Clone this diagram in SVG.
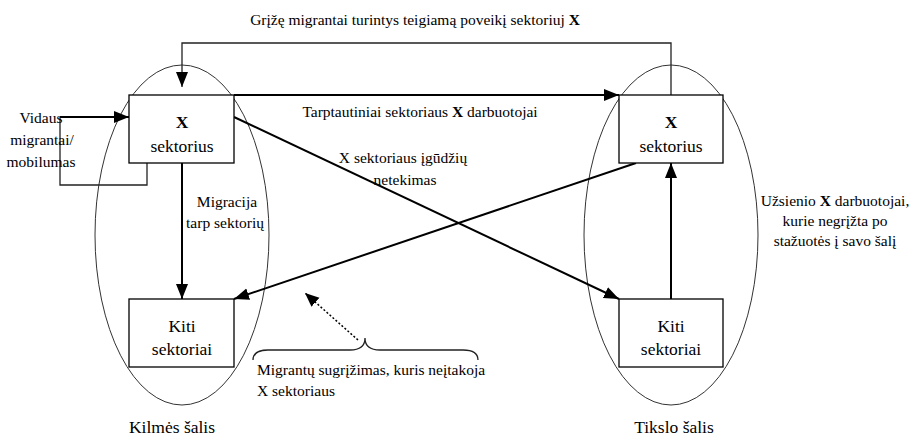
<svg xmlns="http://www.w3.org/2000/svg" width="914" height="440" viewBox="0 0 914 440" font-family="'Liberation Serif', 'DejaVu Serif', serif">
<defs>
<style>
text{font-family:'Liberation Serif','DejaVu Serif',serif;fill:#000}
.lbl{font-size:15.5px}
.box-t{font-size:17.5px;text-anchor:middle}
.mid{text-anchor:middle}
.b{font-weight:bold}
.box{fill:#fff;stroke:#000;stroke-width:1.3}
.ell{fill:none;stroke:#333;stroke-width:1}
.thin{fill:none;stroke:#222;stroke-width:1.3}
.thick{fill:none;stroke:#000;stroke-width:2}
.dot{fill:none;stroke:#000;stroke-width:1.5;stroke-dasharray:2 2}
</style>
<marker id="ah" markerUnits="userSpaceOnUse" markerWidth="16" markerHeight="14" refX="15" refY="6" orient="auto">
<path d="M0,0 L15,6 L0,12 z" fill="#000"/>
</marker>
<marker id="ahs" markerUnits="userSpaceOnUse" markerWidth="16" markerHeight="14" refX="14" refY="6" orient="auto">
<path d="M0,0 L14,6 L0,12 z" fill="#000"/>
</marker>
</defs>
<rect width="914" height="440" fill="#fff"/>

<g id="origin-country">
<ellipse class="ell" cx="182" cy="235" rx="87" ry="170"/>
<text class="box-t" x="172" y="433">Kilmės šalis</text>
</g>
<g id="destination-country">
<ellipse class="ell" cx="671" cy="235" rx="87" ry="170"/>
<text class="box-t" x="674" y="433">Tikslo šalis</text>
</g>

<g id="connectors">
<path class="thin" d="M671,95 V43 H182 V87" marker-end="url(#ah)"/>
<path class="thick" d="M234,95 H619" marker-end="url(#ah)"/>
<path class="thin" d="M60,117 V185 H147 V156"/>
<path class="thick" d="M60,117 H129" marker-end="url(#ah)"/>
<path class="thick" d="M182,163 V299" marker-end="url(#ah)"/>
<path class="thick" d="M671,299 V163" marker-end="url(#ah)"/>
<path class="thick" d="M234,117 L619,299" marker-end="url(#ah)"/>
<path class="thick" d="M636,163 L234,299" marker-end="url(#ah)"/>
<path class="dot" d="M358,340 L305,293" marker-end="url(#ahs)"/>
<path class="thin" d="M253,360 C253,353 258,350 268,350 H350 C360,350 365,346 365,338 C365,346 370,350 380,350 H463 C473,350 478,353 478,360"/>
</g>

<g id="origin-x-sector">
<rect class="box" x="129" y="95" width="105" height="68"/>
<text class="box-t b" x="182" y="128">X</text>
<text class="box-t" x="182" y="152">sektorius</text>
</g>
<g id="origin-other-sectors">
<rect class="box" x="129" y="299" width="105" height="68"/>
<text class="box-t" x="182" y="332">Kiti</text>
<text class="box-t" x="182" y="355">sektoriai</text>
</g>
<g id="dest-x-sector">
<rect class="box" x="619" y="95" width="104" height="68"/>
<text class="box-t b" x="671" y="128">X</text>
<text class="box-t" x="671" y="152">sektorius</text>
</g>
<g id="dest-other-sectors">
<rect class="box" x="619" y="299" width="104" height="68"/>
<text class="box-t" x="671" y="332">Kiti</text>
<text class="box-t" x="671" y="355">sektoriai</text>
</g>

<g id="labels">
<text class="lbl mid" x="415" y="25">Grįžę migrantai turintys teigiamą poveikį sektoriuj <tspan class="b">X</tspan></text>
<text class="lbl mid" x="420" y="117">Tarptautiniai sektoriaus <tspan class="b">X</tspan> darbuotojai</text>
<text class="lbl mid" x="403" y="163">X sektoriaus įgūdžių</text>
<text class="lbl mid" x="405" y="185">netekimas</text>
<text class="lbl mid" x="41" y="123">Vidaus</text>
<text class="lbl mid" x="42" y="145">migrantai/</text>
<text class="lbl mid" x="41" y="167">mobilumas</text>
<text class="lbl mid" x="227" y="207">Migracija</text>
<text class="lbl mid" x="225" y="228">tarp sektorių</text>
<text class="lbl mid" x="835" y="206">Užsienio <tspan class="b">X</tspan> darbuotojai,</text>
<text class="lbl mid" x="835" y="226">kurie negrįžta po</text>
<text class="lbl mid" x="835" y="246">stažuotės į savo šalį</text>
<text class="lbl" x="257" y="375">Migrantų sugrįžimas, kuris neįtakoja</text>
<text class="lbl" x="257" y="396">X sektoriaus</text>
</g>
</svg>
